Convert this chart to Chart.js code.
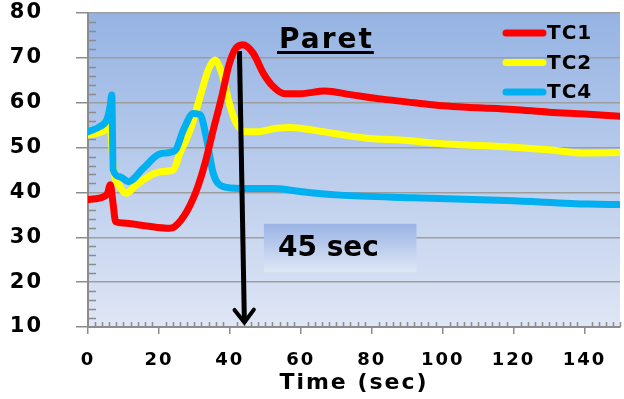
<!DOCTYPE html>
<html>
<head>
<meta charset="utf-8">
<script src="https://cdn.jsdelivr.net/npm/chart.js@4.4.1/dist/chart.umd.min.js"></script>
<style>
  html, body { margin: 0; padding: 0; background: #fff; }
  #chart { display: block; }
</style>
</head>
<body>
<canvas id="chart" width="624" height="399"></canvas>
<script>
// values
const tc1Time = [0, 2, 4.3, 5.5, 6.3, 7.0, 7.8, 10, 16.5, 23, 24.5, 27.8, 30.6, 33, 35.3, 37.7, 39.6, 41.4, 43.6, 46.6, 49.4, 52.2, 55.5, 59.8, 66.8, 74, 83, 92, 100, 110, 120, 130, 140, 150];
const tc1Values = [38.4, 38.6, 39.0, 39.8, 41.7, 38, 33.5, 33.2, 32.5, 32.0, 32.4, 35.7, 40.5, 46.5, 53.9, 61.3, 68.0, 71.8, 72.9, 71.0, 66.6, 63.6, 62.0, 62.0, 62.6, 61.8, 60.8, 60.0, 59.3, 58.9, 58.5, 57.9, 57.5, 57.0];

const tc2Time = [0, 2.5, 4.8, 6.2, 7.1, 9, 10.9, 13, 15.6, 20.3, 24, 25.9, 28.8, 31.6, 33.9, 35.8, 37.7, 39.6, 41.4, 44.3, 47.6, 53.2, 57, 59.8, 69, 78.6, 90, 99, 115, 130, 139.6, 150];
const tc2Values = [52.8, 53.2, 53.9, 55.4, 45.7, 41.3, 39.8, 41.2, 42.8, 44.6, 45.0, 48.7, 53.9, 61.3, 67.3, 69.5, 66.6, 60.6, 56.1, 53.5, 53.5, 54.3, 54.5, 54.3, 53.2, 52.1, 51.6, 50.9, 50.3, 49.5, 48.8, 48.9];

const tc4Time = [0, 3.4, 5.3, 6.2, 6.7, 7.1, 9, 11.4, 15.6, 20.3, 24.5, 26.9, 29.7, 31.6, 33.5, 35.3, 38.1, 42.9, 51.3, 54, 59.8, 71, 91.6, 118, 141.5, 150];
const tc4Values = [53.5, 54.7, 56.2, 59, 61.7, 45.0, 43.5, 42.4, 45.4, 48.6, 49.3, 53.9, 57.6, 57.3, 51.7, 44.3, 41.3, 40.9, 40.9, 40.8, 40.2, 39.4, 38.8, 38.2, 37.4, 37.3];

const seriesNames = ["TC1", "TC2", "TC4"];
const seriesColors = ["#ff0000", "#ffff00", "#00b0f0"];

const xTicks = [0, 20, 40, 60, 80, 100, 120, 140];
const yTicks = [10, 20, 30, 40, 50, 60, 70, 80];

// arrow from the TC1 peak down to the axis
const arrowTime = [42.7, 44.1];
const arrowValue = [71.5, 11];

const titleText = "Paret";
const noteText = "45 sec";
const axisTitle = "Time (sec)";

const FONT = "'DejaVu Sans', Verdana, sans-serif";

const toPoints = (xs, ys) => xs.map((x, i) => ({ x, y: ys[i] }));

const series = [
  toPoints(tc1Time, tc1Values),
  toPoints(tc2Time, tc2Values),
  toPoints(tc4Time, tc4Values)
];
const drawOrder = [0, 2, 1];

const decorations = {
  id: "decorations",
  beforeDraw(chart) {
    const { ctx, chartArea: a } = chart;
    const g = ctx.createLinearGradient(0, a.top, 0, a.bottom);
    g.addColorStop(0, "#95b3e3");
    g.addColorStop(1, "#dfe6f5");
    ctx.save();
    ctx.fillStyle = g;
    ctx.fillRect(a.left, a.top, a.right - a.left, a.bottom - a.top);
    ctx.restore();
    // the axis text in the picture is set wide
    ctx.letterSpacing = "2px";
  },
  beforeDatasetsDraw(chart) {
    const { ctx, chartArea: a, scales: { x, y } } = chart;
    ctx.letterSpacing = "0px";
    ctx.save();
    ctx.strokeStyle = "#8c8c8c";
    ctx.lineWidth = 1.5;
    ctx.beginPath();
    for (let v = 12; v < 80; v += 2) {
      if (v % 10 === 0) continue;
      const py = Math.round(y.getPixelForValue(v)) + 0.5;
      ctx.moveTo(a.left, py);
      ctx.lineTo(a.left + 8, py);
    }
    for (let t = 2; t <= 150; t += 2) {
      if (t % 20 === 0) continue;
      const px = Math.round(x.getPixelForValue(t)) + 0.5;
      ctx.moveTo(px, a.bottom);
      ctx.lineTo(px, a.bottom - 5);
    }
    ctx.stroke();

    // "45 sec" box
    const bl = x.getPixelForValue(49.6), br = x.getPixelForValue(92.6);
    const bt = y.getPixelForValue(33), bb = y.getPixelForValue(22.2);
    const bg = ctx.createLinearGradient(0, bt, 0, bb);
    bg.addColorStop(0, "#9ab4e4");
    bg.addColorStop(1, "#dfe7f6");
    ctx.fillStyle = bg;
    ctx.fillRect(bl, bt, br - bl, bb - bt);
    ctx.fillStyle = "#000";
    ctx.font = `bold 28px ${FONT}`;
    ctx.textBaseline = "middle";
    ctx.textAlign = "left";
    ctx.fillText(noteText, bl + 14, (bt + bb) / 2 + 1);
    ctx.restore();
  },
  afterDatasetsDraw(chart) {
    const { ctx, scales: { x, y } } = chart;
    ctx.save();

    // arrow
    const x0 = x.getPixelForValue(arrowTime[0]), y0 = y.getPixelForValue(arrowValue[0]);
    const x1 = x.getPixelForValue(arrowTime[1]), y1 = y.getPixelForValue(arrowValue[1]);
    ctx.strokeStyle = "#000";
    ctx.lineWidth = 5;
    ctx.beginPath();
    ctx.moveTo(x0, y0);
    ctx.lineTo(x1, y1);
    ctx.stroke();
    const ang = Math.atan2(y1 - y0, x1 - x0);
    ctx.lineWidth = 4;
    ctx.lineCap = "round";
    ctx.beginPath();
    ctx.moveTo(x1 - 16 * Math.cos(ang - 0.65), y1 - 16 * Math.sin(ang - 0.65));
    ctx.lineTo(x1, y1);
    ctx.lineTo(x1 - 16 * Math.cos(ang + 0.65), y1 - 16 * Math.sin(ang + 0.65));
    ctx.stroke();

    // title
    ctx.fillStyle = "#000";
    ctx.font = `bold 28px ${FONT}`;
    ctx.letterSpacing = "2px";
    ctx.textBaseline = "alphabetic";
    ctx.textAlign = "left";
    const tx = 279, ty = 48;
    ctx.fillText(titleText, tx, ty);
    const tw = ctx.measureText(titleText).width;
    ctx.fillRect(tx - 2, ty + 3, tw + 2, 3);

    // legend
    ctx.font = `bold 20px ${FONT}`;
    ctx.letterSpacing = "1px";
    ctx.textBaseline = "middle";
    chart.data.datasets.forEach((ds, i) => {
      const ly = 33 + i * 29.5;
      ctx.strokeStyle = ds.borderColor;
      ctx.lineWidth = 7;
      ctx.lineCap = "round";
      ctx.beginPath();
      ctx.moveTo(506, ly);
      ctx.lineTo(543, ly);
      ctx.stroke();
      ctx.fillText(ds.label, 547, ly + 1);
    });
    ctx.letterSpacing = "0px";
    ctx.restore();
  }
};

new Chart(document.getElementById("chart"), {
  type: "line",
  data: {
    datasets: series.map((data, i) => ({
      label: seriesNames[i],
      data,
      borderColor: seriesColors[i],
      backgroundColor: seriesColors[i],
      borderWidth: 7,
      pointRadius: 0,
      fill: false,
      cubicInterpolationMode: "monotone",
      borderCapStyle: "round",
      borderJoinStyle: "round",
      order: drawOrder[i]
    }))
  },
  options: {
    responsive: false,
    devicePixelRatio: 1,
    animation: false,
    layout: { padding: { top: 13, right: 4, left: 0, bottom: 0 } },
    plugins: {
      legend: { display: false },
      tooltip: { enabled: false }
    },
    scales: {
      x: {
        type: "linear",
        min: 0,
        max: 150,
        afterBuildTicks: (s) => { s.ticks = xTicks.map((value) => ({ value })); },
        afterFit: (s) => { s.height = 72; s.paddingLeft = 0; s.paddingRight = 0; },
        ticks: {
          includeBounds: false,
          color: "#000",
          padding: 16,
          maxRotation: 0,
          font: { family: FONT, size: 18, weight: "bold" }
        },
        grid: {
          drawOnChartArea: false,
          tickLength: 7,
          tickColor: "#8c8c8c",
          lineWidth: 1.5
        },
        border: { color: "#8c8c8c", width: 2 },
        title: {
          display: true,
          text: axisTitle,
          color: "#000",
          font: { family: FONT, size: 22, weight: "bold" },
          padding: { top: 0, bottom: 3 }
        }
      },
      y: {
        min: 10,
        max: 80,
        afterBuildTicks: (s) => { s.ticks = yTicks.map((value) => ({ value })); },
        afterFit: (s) => { s.width = 88; s.paddingTop = 0; s.paddingBottom = 0; },
        ticks: {
          color: "#000",
          padding: 33,
          font: { family: FONT, size: 21, weight: "bold" }
        },
        grid: {
          color: "#9e9e9e",
          tickColor: "#8c8c8c",
          tickLength: 12,
          lineWidth: 1.5
        },
        border: { color: "#8c8c8c", width: 2 }
      }
    }
  },
  plugins: [decorations]
});
</script>
</body>
</html>
